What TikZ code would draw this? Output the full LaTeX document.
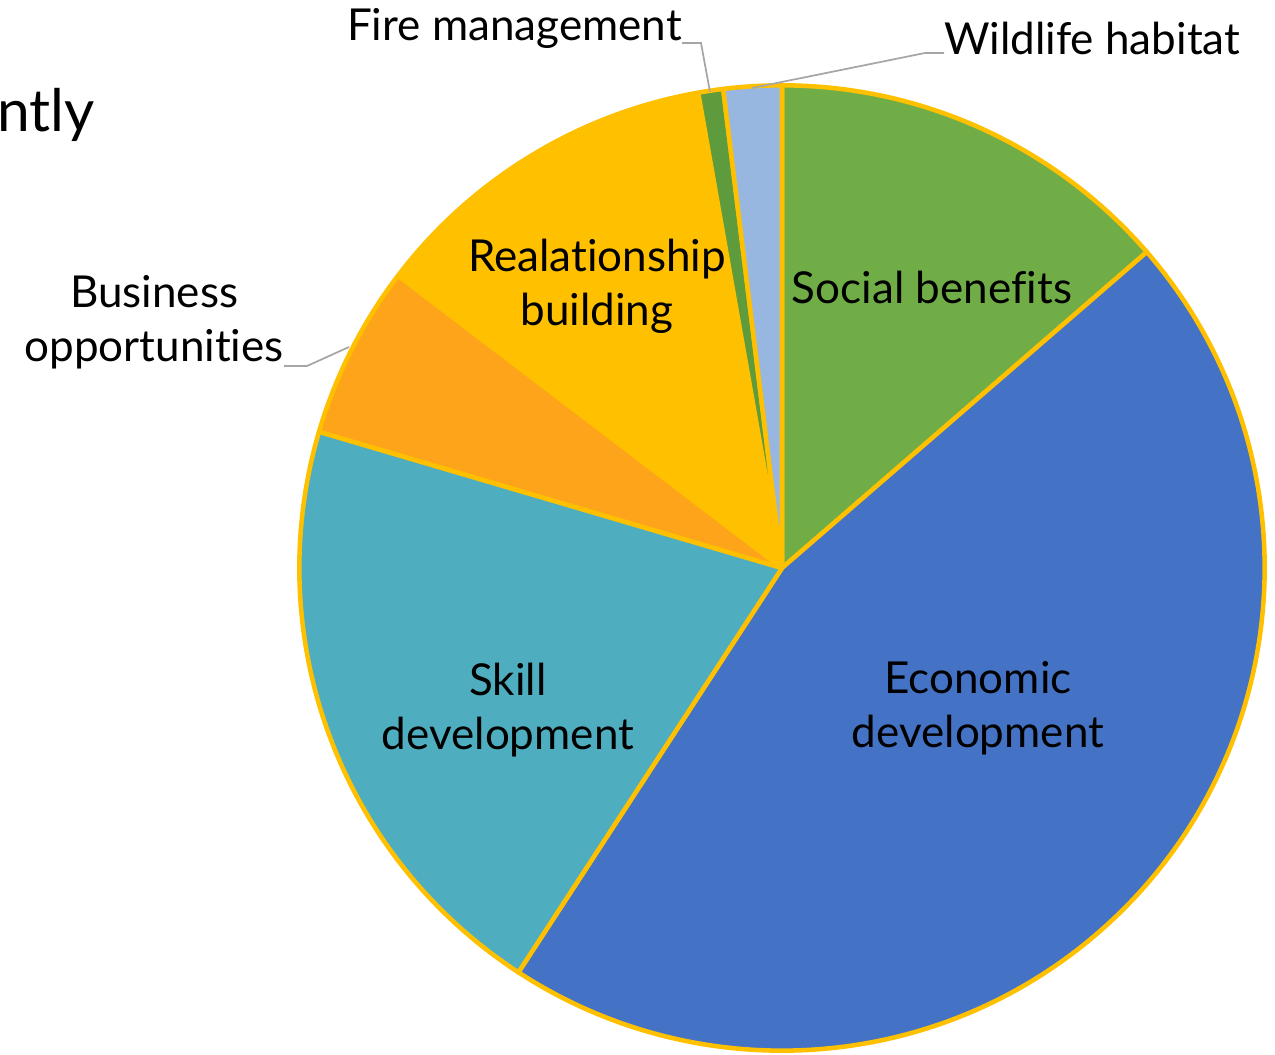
\documentclass[tikz,border=0pt]{standalone}
\usepackage{fontspec}
\setmainfont[Ligatures=NoCommon]{Lato}
\definecolor{social}{HTML}{70AD47}
\definecolor{econ}{HTML}{4472C4}
\definecolor{skill}{HTML}{4EAEC0}
\definecolor{business}{HTML}{FDA41A}
\definecolor{relation}{HTML}{FFC000}
\definecolor{fire}{HTML}{5E9B3C}
\definecolor{wild}{HTML}{97B7E0}
\definecolor{edge}{HTML}{FFC000}
\definecolor{leader}{HTML}{A6A6A6}
\begin{document}
\begin{tikzpicture}[x=0.75pt,y=0.75pt,
  slice/.style={draw=edge,line width=3.4pt,line join=round},
  lbl/.style={font=\fontsize{33}{40.5}\selectfont,align=center,inner sep=0pt,text=black},
  lead/.style={draw=leader,line width=1.3pt}]
\useasboundingbox (0,0) rectangle (1275,-1055);
\def\R{362pt}
\coordinate (c) at (782,-568);
\filldraw[slice,fill=social] (c) -- ++(90:\R) arc[start angle=90,end angle=40.9,radius=\R] -- cycle;
\filldraw[slice,fill=econ] (c) -- ++(40.9:\R) arc[start angle=40.9,end angle=-123.1,radius=\R] -- cycle;
\filldraw[slice,fill=skill] (c) -- ++(-123.1:\R) arc[start angle=-123.1,end angle=-196.4,radius=\R] -- cycle;
\filldraw[slice,fill=business] (c) -- ++(163.6:\R) arc[start angle=163.6,end angle=142.7,radius=\R] -- cycle;
\filldraw[slice,fill=relation] (c) -- ++(142.7:\R) arc[start angle=142.7,end angle=100,radius=\R] -- cycle;
\filldraw[slice,fill=fire] (c) -- ++(100:\R) arc[start angle=100,end angle=97,radius=\R] -- cycle;
\filldraw[slice,fill=wild] (c) -- ++(97:\R) arc[start angle=97,end angle=90,radius=\R] -- cycle;

\node[lbl] (soc) at (932,-287) {Social benefits};
\node[lbl] (rel) at (597,-286) {Realationship\\building};
\node[lbl] (eco) at (978,-708) {Economic\\development};
\node[lbl] (ski) at (508,-710) {Skill\\development};
\node[lbl,anchor=east] (bus) at (284,-322) {Business\\opportunities};
\node[lbl,anchor=east] (fir) at (682,-28) {Fire management};
\node[lbl,anchor=west] (wil) at (944,-38) {Wildlife habitat};
\node[font=\fontsize{44}{50}\selectfont,anchor=base west,inner sep=0pt] (ntly) at (-3,-132) {ntly};

\coordinate (firend) at (710,-92);
\coordinate (wilend) at (752,-88);
\coordinate (busend) at (349,-347);
\draw[lead] (fir.east |- 0,-43) -- (701,-43) -- (firend);
\draw[lead] (wil.west |- 0,-53) -- (925,-53) -- (wilend);
\draw[lead] (bus.east |- 0,-366) -- (307,-366) -- (busend);
\end{tikzpicture}
\end{document}
